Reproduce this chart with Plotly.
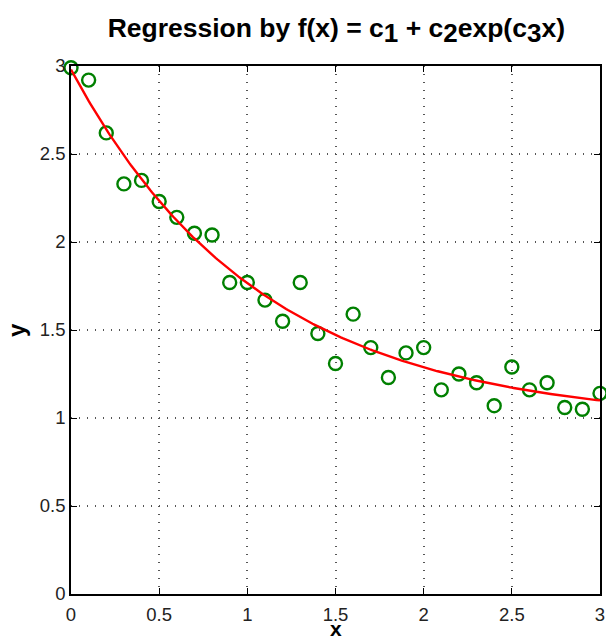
import numpy as np
import plotly.graph_objects as go

# Data
x_data = [0.0, 0.1, 0.2, 0.3, 0.4, 0.5, 0.6, 0.7, 0.8, 0.9, 1.0,
          1.1, 1.2, 1.3, 1.4, 1.5, 1.6, 1.7, 1.8, 1.9, 2.0,
          2.1, 2.2, 2.3, 2.4, 2.5, 2.6, 2.7, 2.8, 2.9, 3.0]
y_data = [2.99, 2.92, 2.62, 2.33, 2.35, 2.23, 2.14, 2.05, 2.04, 1.77, 1.77,
          1.67, 1.55, 1.77, 1.48, 1.31, 1.59, 1.40, 1.23, 1.37, 1.40,
          1.16, 1.25, 1.20, 1.07, 1.29, 1.16, 1.20, 1.06, 1.05, 1.14]

# Fitted coefficients of f(x) = c1 + c2*exp(c3*x)
c1, c2, c3 = 0.978, 2.002, -0.933

x_fit = np.linspace(0, 3, 301)
y_fit = c1 + c2 * np.exp(c3 * x_fit)

x_ticks = [0, 0.5, 1, 1.5, 2, 2.5, 3]
x_ticklabels = ["0", "0.5", "1", "1.5", "2", "2.5", "3"]
y_ticks = [0, 0.5, 1, 1.5, 2, 2.5, 3]
y_ticklabels = ["0", "0.5", "1", "1.5", "2", "2.5", "3"]

FONT = "Liberation Sans, Arial, Helvetica, sans-serif"

fig = go.Figure()
fig.add_trace(go.Scatter(
    x=x_data, y=y_data, mode="markers",
    marker=dict(symbol="circle-open", size=13, color="#008000",
                line=dict(width=2.4, color="#008000")),
    cliponaxis=False, showlegend=False))
fig.add_trace(go.Scatter(
    x=x_fit, y=y_fit, mode="lines",
    line=dict(color="#ff0000", width=2.4),
    cliponaxis=False, showlegend=False))

axis_common = dict(
    showgrid=True, gridcolor="#555555", griddash="1px,7px", gridwidth=1.5,
    zeroline=False, showline=True, linecolor="#000000", linewidth=1.5,
    mirror="ticks", ticks="inside", ticklen=6, tickcolor="#000000", tickwidth=1.2,
    tickfont=dict(family=FONT, size=18.5, color="#222222"),
    automargin=False,
)

sub = '<sub><span style="font-size:26px">{}</span></sub>'
title_text = ("<b>Regression by f(x) = c" + sub.format("1") + " + c" + sub.format("2")
              + "exp(c" + sub.format("3") + "x)</b>")

fig.update_layout(
    width=606, height=642,
    margin=dict(l=71, r=6, t=66, b=48),
    paper_bgcolor="white", plot_bgcolor="white",
    title=dict(
        text=title_text,
        x=0.555, xanchor="center", y=0.957, yanchor="middle",
        font=dict(family=FONT, size=26.5, color="#000000")),
    xaxis=dict(range=[0, 3], tickvals=x_ticks, ticktext=x_ticklabels,
               ticklabelstandoff=3, **axis_common),
    yaxis=dict(range=[0, 3], tickvals=y_ticks, ticktext=y_ticklabels,
               ticklabelstandoff=0, **axis_common),
    annotations=[
        dict(text="<b>x</b>", xref="paper", yref="paper", x=0.5, y=-0.0905,
             xanchor="center", yanchor="bottom", showarrow=False,
             font=dict(family=FONT, size=21, color="#000")),
        dict(text="<b>y</b>", xref="paper", yref="paper", x=-0.104, y=0.5,
             xanchor="center", yanchor="middle", showarrow=False, textangle=-90,
             font=dict(family=FONT, size=24, color="#000")),
    ],
)

fig.write_html("out.html", config={"displayModeBar": False},
               post_script="document.body.style.margin='0';document.body.style.overflow='hidden';")
